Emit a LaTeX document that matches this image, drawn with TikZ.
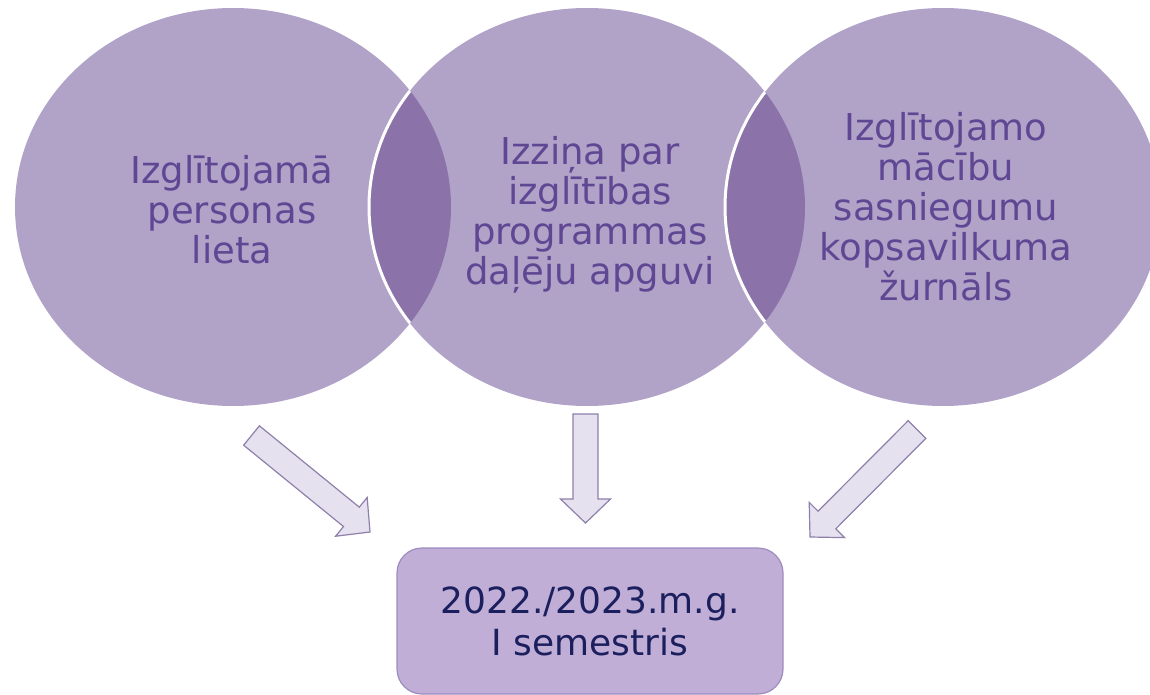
\documentclass[tikz,border=0pt]{standalone}
\usepackage{fontspec}
\setmainfont{DejaVu Sans}
\usetikzlibrary{shapes.geometric,calc}
\definecolor{circfill}{HTML}{B1A2C8}
\definecolor{overlapc}{HTML}{8B73A9}
\definecolor{circtext}{HTML}{5F4793}
\definecolor{boxfill}{HTML}{C0AED6}
\definecolor{boxline}{HTML}{9E8BC0}
\definecolor{boxtext}{HTML}{1B1F5E}
\definecolor{arrfill}{HTML}{E6E1EE}
\definecolor{arrline}{HTML}{8E80AB}
\tikzset{
  circ/.style={ellipse, fill=circfill, minimum width=436pt, minimum height=398pt,
    inner sep=0pt},
  circtxt/.style={text=circtext, align=center, inner sep=0pt,
    font=\fontsize{37}{40}\selectfont},
  boxnode/.style={draw=boxline, fill=boxfill, rounded corners=25pt, line width=1.2pt,
    minimum width=386pt, minimum height=146pt, text=boxtext, align=center,
    font=\fontsize{36}{42}\selectfont},
  barrowsty/.style={fill=arrfill, draw=arrline, line width=1.2pt, line join=miter},
  whiteedge/.style={draw=white, line width=3pt},
}
\newcommand{\blockarrow}[2]{%
  \coordinate (#1h) at ($(#2)!24pt!(#1)$);
  \draw[barrowsty] ($(#1)!12.5pt!90:(#2)$) -- ($(#1h)!12.5pt!90:(#2)$)
    -- ($(#1h)!25pt!90:(#2)$) -- (#2) -- ($(#1h)!25pt!-90:(#2)$)
    -- ($(#1h)!12.5pt!-90:(#2)$) -- ($(#1)!12.5pt!-90:(#2)$) -- cycle;
}
\begin{document}
\begin{tikzpicture}[x=1pt,y=-1pt]
\useasboundingbox (0,0) rectangle (1150,695);
\clip (0,0) rectangle (1150,695);
% circles
\node[circ] (c1) at (233,207) {};
\node[circ] (c2) at (587,207) {};
\node[circ] (c3) at (943,207) {};
% overlaps
\begin{scope}
  \clip (c1.center) ellipse [x radius=218pt, y radius=199pt];
  \fill[overlapc] (c2.center) ellipse [x radius=218pt, y radius=199pt];
  \path[whiteedge] (c2.center) ellipse [x radius=218pt, y radius=199pt];
\end{scope}
\begin{scope}
  \clip (c2.center) ellipse [x radius=218pt, y radius=199pt];
  \fill[overlapc] (c3.center) ellipse [x radius=218pt, y radius=199pt];
  \path[whiteedge] (c3.center) ellipse [x radius=218pt, y radius=199pt];
\end{scope}
% texts
\node[circtxt] (t1) at (232,210) {Izglītojamā\\personas\\lieta};
\node[circtxt] (t2) at (590,215) {Izziņa par\\izglītības\\programmas\\daļēju apguvi};
\node[circtxt] (t3) at (946,207) {Izglītojamo\\mācību\\sasniegumu\\kopsavilkuma\\žurnāls};
% box
\node[boxnode] (box) at (590,621) {2022./2023.m.g.\\I semestris};
% arrows
\coordinate (s1) at (251.5,435.5);
\coordinate (e1) at (370,532);
\coordinate (s2) at (585.5,414);
\coordinate (e2) at (585.5,523);
\coordinate (s3) at (917,429.5);
\coordinate (e3) at (810,537);
\blockarrow{s1}{e1}
\blockarrow{s2}{e2}
\blockarrow{s3}{e3}
\end{tikzpicture}
\end{document}
